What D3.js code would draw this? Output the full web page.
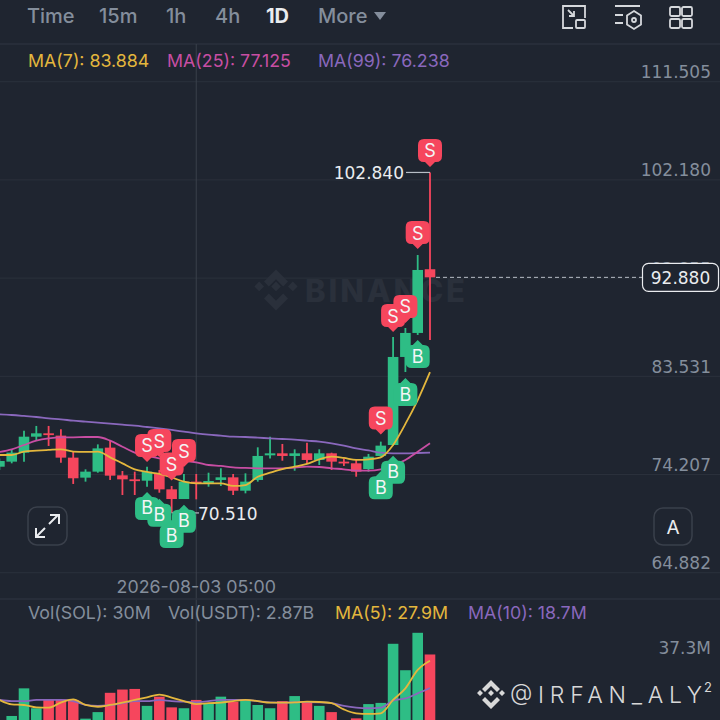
<!DOCTYPE html>
<html>
<head>
<meta charset="utf-8">
<script src="https://cdn.jsdelivr.net/npm/d3@7"></script>
<style>
  html, body { margin: 0; padding: 0; background: #1f2530; }
  svg { display: block; font-family: Inter, "Noto Sans", sans-serif; }
  .num { font-family: "DejaVu Sans", sans-serif; }
</style>
</head>
<body>
<div id="chart"></div>
<script>
var svgWidth = 720;
var svgHeight = 720;

// candles, oldest first
var opens  = [74.90,75.38,76.23,77.75,78.07,77.85,75.76,73.86,74.43,76.71,74.08,73.70,73.57,74.21,72.75,71.83,73.48,73.35,73.64,73.89,72.62,73.64,75.98,76.17,75.92,76.17,75.54,76.17,75.38,75.22,74.68,75.92,76.96,85.32,87.60,93.65];
var highs  = [75.69,76.49,78.32,78.77,78.77,78.45,76.33,74.65,77.02,77.37,74.49,74.43,74.90,74.59,73.07,74.21,74.21,74.33,74.75,74.21,74.27,76.74,77.75,77.06,76.55,77.18,76.55,76.23,75.69,75.54,76.11,77.28,87.22,88.07,95.00,102.84];
var lows   = [74.59,75.22,75.38,77.37,76.87,75.28,73.26,73.48,74.33,73.64,72.21,72.21,73.00,72.43,70.51,71.83,71.80,73.00,73.07,72.21,72.37,73.48,75.69,75.47,74.52,75.16,75.06,74.59,74.97,73.95,74.43,75.85,76.90,83.89,87.41,86.93];
var closes = [75.44,76.23,77.75,78.07,77.91,75.76,73.80,74.43,76.64,74.05,73.70,73.54,74.43,72.75,71.83,73.48,73.35,73.54,73.89,72.62,73.48,75.92,76.17,75.92,76.17,75.54,76.17,75.38,75.22,74.43,75.85,76.90,85.32,87.60,93.58,92.88];
var volumes = [7,9.3,18.6,11.9,14.7,14.9,14.7,8.4,10.6,17.1,18.2,18.4,12.7,15.8,12.2,11.9,14.7,13.6,15.8,14.1,14.7,13.0,11.9,14.3,16.0,13.9,12.7,10.6,7.0,8.5,13.3,13.7,33.6,24.7,37.3,30.0];

var ma7  = [76.01,76.01,76.33,76.42,76.49,76.55,76.33,76.30,76.33,75.79,75.22,74.65,74.40,74.21,73.89,73.48,73.32,73.32,73.32,73.07,73.16,73.95,74.33,74.68,74.90,75.16,75.60,75.85,75.73,75.54,75.60,75.79,76.96,78.96,81.23,83.884];
var ma25 = [76.30,76.55,76.96,77.37,77.59,77.69,77.69,77.72,77.72,77.37,76.80,76.23,75.92,75.69,75.47,75.44,75.32,75.06,74.97,74.84,74.78,74.75,74.75,74.75,74.81,74.90,74.87,74.75,74.65,74.52,74.52,74.65,75.06,75.54,76.33,77.125];
var ma99 = [79.87,79.81,79.72,79.62,79.49,79.40,79.27,79.18,79.08,78.99,78.89,78.80,78.67,78.54,78.39,78.23,78.07,77.94,77.85,77.75,77.72,77.66,77.59,77.53,77.47,77.37,77.28,77.12,76.90,76.64,76.45,76.23,76.17,76.17,76.20,76.238];
var volMa5  = [14.7,13.2,13.0,12.2,12.1,13.8,14.9,13.0,12.4,13.0,13.8,14.7,15.6,16.5,15.5,14.3,13.3,13.6,13.8,14.3,14.7,14.3,13.8,13.8,13.9,14.1,14.0,13.6,11.5,10.2,10.0,10.2,14.7,18.6,24.8,27.9];
var volMa10 = [14.7,14.3,14.3,14.7,14.7,14.7,14.3,13.0,12.7,13.0,13.6,14.3,14.3,14.7,14.3,14.1,13.9,14.3,14.7,14.7,14.7,14.3,13.9,13.8,13.9,14.0,13.9,13.6,12.7,12.1,11.9,12.1,14.5,15.2,16.9,18.7];

var priceTicks = [111.505,102.180,92.855,83.531,74.207,64.882];
var tabs = ["Time","15m","1h","4h","1D","More"];
var tabX = [27,99,166,215,266,318];

// trade markers: candle index and the price the pointer tip sits on
var sellIdx   = [35,34,33,32,31,12,13,15,14];
var sellPrice = [103.36,95.57,88.55,87.69,77.96,75.35,75.82,74.87,73.60];
var buyIdx    = [34,33,12,13,15,14,32,31];
var buyPrice  = [86.93,83.32,72.50,71.86,71.29,69.84,75.94,74.46];

var lastPrice = 92.880;
var highPrice = 102.840;
var lowPrice = 70.510;
var highIndex = 35;
var lowIndex = 14;
var cursorIndex = 16;

var green = "#2ebd85", red = "#f6465d", grey = "#848e9c";
var yellow = "#e4b73d", pink = "#c84ea3", purple = "#8a68bd", gridCol = "#2b313c";

var svg = d3.select("#chart").append("svg")
  .attr("width", svgWidth)
  .attr("height", svgHeight);

var x = d3.scaleLinear().domain([0, 35]).range([-0.6, 430]);
var y = d3.scaleLinear().domain([64.882, 111.505]).range([572.2, 81.2]);
var vy = d3.scaleLinear().domain([0, 37.3]).range([743.6, 632.8]);
var bodyW = 10.6;

// header
svg.append("g").selectAll("text").data(tabs).enter().append("text")
  .attr("x", (d, i) => tabX[i])
  .attr("y", 23)
  .attr("font-size", 20)
  .attr("font-weight", d => d === "1D" ? 700 : 500)
  .attr("fill", d => d === "1D" ? "#eaecef" : grey)
  .text(d => d);
svg.append("path").attr("d", "M374 12h12l-6 8z").attr("fill", grey);
svg.append("line").attr("x1", 0).attr("x2", 720).attr("y1", 44).attr("y2", 44).attr("stroke", gridCol).attr("stroke-width", 1.5);

// top right icons
var icons = svg.append("g").attr("fill", "none").attr("stroke", "#d5d8dc").attr("stroke-width", 1.8);
icons.append("path").attr("d", "M573 28h-10v-22h22v12");
icons.append("rect").attr("x", 576).attr("y", 20).attr("width", 9).attr("height", 8).attr("rx", 1);
icons.append("path").attr("d", "M568 10l6 6M574 11v5h-5");
icons.append("path").attr("d", "M615 6h25M615 15h8M615 23h8");
icons.append("path").attr("d", "M634 11l7 4.500v9l-7 4.500l-7 -4.500v-9z");
icons.append("circle").attr("cx", 634).attr("cy", 20).attr("r", 2);
[670, 682].forEach(function(ix) {
  [7, 19].forEach(function(iy) {
    icons.append("rect").attr("x", ix).attr("y", iy).attr("width", 10).attr("height", 9).attr("rx", 1.5);
  });
});

// price axis with the labels sitting above each grid line
var yAxis = svg.append("g")
  .attr("transform", "translate(720,0)")
  .call(d3.axisLeft(y).tickValues(priceTicks).tickSize(720).tickFormat(d3.format(".3f")));
yAxis.select(".domain").remove();
yAxis.selectAll("line").attr("stroke", gridCol);
yAxis.selectAll("text")
  .attr("x", -9).attr("y", -9).attr("dy", "0.32em")
  .attr("text-anchor", "end")
  .attr("font-family", "DejaVu Sans, sans-serif")
  .attr("font-size", 17).attr("fill", grey);

// watermark
var wm = svg.append("g").attr("fill", "#2a303b");
wm.append("path")
  .attr("transform", "translate(276,290) scale(1.2) translate(-275,-294)")
  .attr("d", "M275 277l10 10l-4 4l-6 -6l-6 6l-4 -4zM261 287l4 4l-4 4l-4 -4zM289 287l4 4l-4 4l-4 -4zM275 287l4 4l-4 4l-4 -4zM269 297l6 6l6 -6l4 4l-10 10l-10 -10z");
wm.append("text").attr("x", 305).attr("y", 302).attr("font-size", 31).attr("font-weight", 800).attr("textLength", 160).text("BINANCE");

// cursor
svg.append("line")
  .attr("x1", x(cursorIndex)).attr("x2", x(cursorIndex))
  .attr("y1", 44).attr("y2", 700)
  .attr("stroke", "#3a404b");

// separator above the volume pane and time label
svg.append("line").attr("x1", 0).attr("x2", 720).attr("y1", 599).attr("y2", 599).attr("stroke", gridCol).attr("stroke-width", 1.5);
svg.append("text").attr("x", x(cursorIndex)).attr("y", 593).attr("text-anchor", "middle")
  .attr("font-size", 17.8).attr("fill", grey).text("2026-08-03 05:00");

// legends
function legend(yPos, items) {
  svg.append("g").selectAll("text").data(items).enter().append("text")
    .attr("x", d => d[0]).attr("y", yPos)
    .attr("font-size", 17.8).attr("fill", d => d[2])
    .text(d => d[1]);
}
legend(67, [[28, "MA(7): 83.884", yellow], [167, "MA(25): 77.125", pink], [318, "MA(99): 76.238", purple]]);
legend(619, [[28, "Vol(SOL): 30M", grey], [168, "Vol(USDT): 2.87B", grey], [335, "MA(5): 27.9M", yellow], [468, "MA(10): 18.7M", purple]]);

// volume bars
svg.append("g").selectAll("rect").data(volumes).enter().append("rect")
  .attr("x", (d, i) => x(i) - bodyW / 2)
  .attr("width", bodyW)
  .attr("y", d => vy(d))
  .attr("height", d => 720 - vy(d))
  .attr("fill", (d, i) => closes[i] >= opens[i] ? green : red);

var curve = d3.curveMonotoneX;
var volLine = d3.line().x((d, i) => x(i)).y(d => vy(d)).curve(curve);
svg.append("path").attr("d", volLine(volMa10)).attr("fill", "none").attr("stroke", purple).attr("stroke-width", 1.8);
svg.append("path").attr("d", volLine(volMa5)).attr("fill", "none").attr("stroke", yellow).attr("stroke-width", 1.8);
svg.append("text").attr("class", "num").attr("x", 711).attr("y", 654).attr("text-anchor", "end").attr("font-size", 17).attr("fill", grey).text("37.3M");

// candles
var idx = d3.range(opens.length);
svg.append("g").selectAll("line").data(idx).enter().append("line")
  .attr("x1", i => x(i)).attr("x2", i => x(i))
  .attr("y1", i => y(highs[i])).attr("y2", i => y(lows[i]))
  .attr("stroke", i => closes[i] >= opens[i] ? green : red)
  .attr("stroke-width", 1.8);
svg.append("g").selectAll("rect").data(idx).enter().append("rect")
  .attr("x", i => x(i) - bodyW / 2)
  .attr("width", bodyW)
  .attr("y", i => y(Math.max(opens[i], closes[i])))
  .attr("height", i => Math.max(1.8, Math.abs(y(opens[i]) - y(closes[i]))))
  .attr("fill", i => closes[i] >= opens[i] ? green : red);

// moving averages
var priceLine = d3.line().x((d, i) => x(i)).y(d => y(d)).curve(curve);
[[ma99, purple], [ma25, pink], [ma7, yellow]].forEach(function(s) {
  svg.append("path").attr("d", priceLine(s[0])).attr("fill", "none").attr("stroke", s[1]).attr("stroke-width", 1.8);
});

// high / low labels
svg.append("line").attr("x1", 406).attr("x2", x(highIndex)).attr("y1", y(highPrice)).attr("y2", y(highPrice)).attr("stroke", "#b7bdc6").attr("stroke-width", 1.2);
svg.append("text").attr("class", "num").attr("x", 404).attr("y", y(highPrice) + 7).attr("text-anchor", "end").attr("font-size", 17).attr("fill", "#eaecef").text(d3.format(".3f")(highPrice));
svg.append("line").attr("x1", x(lowIndex)).attr("x2", 199).attr("y1", y(lowPrice)).attr("y2", y(lowPrice)).attr("stroke", "#b7bdc6").attr("stroke-width", 1.2);
svg.append("text").attr("class", "num").attr("x", 198).attr("y", y(lowPrice) + 7).attr("font-size", 17).attr("fill", "#eaecef").text(d3.format(".3f")(lowPrice));

// trade markers, shapes first so no letter gets covered by a neighbour
var markers = sellIdx.map((d, i) => ({i: d, p: sellPrice[i], sell: true}))
  .concat(buyIdx.map((d, i) => ({i: d, p: buyPrice[i], sell: false})));
var markerG = svg.append("g");
markers.forEach(function(m) {
  var s = m.sell ? -1 : 1;
  markerG.append("path")
    .attr("transform", `translate(${x(m.i)},${y(m.p)})`)
    .attr("d", `M0 0L${-5} ${s * 5}H${-6}Q-12 ${s * 5} -12 ${s * 11}V${s * 22}Q-12 ${s * 28} -6 ${s * 28}H6Q12 ${s * 28} 12 ${s * 22}V${s * 11}Q12 ${s * 5} 6 ${s * 5}H5Z`)
    .attr("fill", m.sell ? red : green);
});
markers.forEach(function(m) {
  var s = m.sell ? -1 : 1;
  markerG.append("text")
    .attr("x", x(m.i)).attr("y", y(m.p) + s * 16 + 6.500)
    .attr("text-anchor", "middle")
    .attr("font-size", 18).attr("fill", "#f3f5f6").text(m.sell ? "S" : "B");
});

// last price
svg.append("line").attr("x1", x(35) + 6).attr("x2", 642).attr("y1", y(lastPrice)).attr("y2", y(lastPrice))
  .attr("stroke", "#b7bdc6").attr("stroke-dasharray", "4 3");
svg.append("rect").attr("x", 642.500).attr("y", y(lastPrice) - 14).attr("width", 76).attr("height", 28).attr("rx", 6)
  .attr("fill", "#1f2530").attr("stroke", "#eaecef").attr("stroke-width", 1.2);
svg.append("text").attr("class", "num").attr("x", 680.500).attr("y", y(lastPrice) + 6.500).attr("text-anchor", "middle")
  .attr("font-size", 17).attr("fill", "#eaecef").text(d3.format(".3f")(lastPrice));

// floating buttons
svg.append("rect").attr("x", 28).attr("y", 507).attr("width", 39).attr("height", 38).attr("rx", 9)
  .attr("fill", "none").attr("stroke", "#3a404b").attr("stroke-width", 1.5);
svg.append("path").attr("d", "M36 537l9 -9M49 524l9 -9M50 515h9v9M36 528v9h9").attr("fill", "none").attr("stroke", "#eaecef").attr("stroke-width", 2);
svg.append("rect").attr("x", 654).attr("y", 508).attr("width", 38).attr("height", 37).attr("rx", 9)
  .attr("fill", "none").attr("stroke", "#3a404b").attr("stroke-width", 1.5);
svg.append("text").attr("x", 673).attr("y", 534).attr("text-anchor", "middle").attr("font-size", 19).attr("fill", "#eaecef").text("A");

// credit in the corner
var cr = svg.append("g").attr("fill", "#d8d8d8");
cr.append("path").attr("d", "M491 680l9 9l-3 3l-6 -6l-6 6l-3 -3zM480 690l3 3l-3 3l-3 -3zM502 690l3 3l-3 3l-3 -3zM491 690l3 3l-3 3l-3 -3zM485 697l6 6l6 -6l3 3l-9 9l-9 -9z");
cr.append("text").attr("x", 510).attr("y", 703).attr("font-size", 23).attr("font-weight", 300).attr("textLength", 192).text("@IRFAN_ALY");
cr.append("text").attr("x", 704).attr("y", 692).attr("font-size", 13).text("2");
</script>
</body>
</html>
